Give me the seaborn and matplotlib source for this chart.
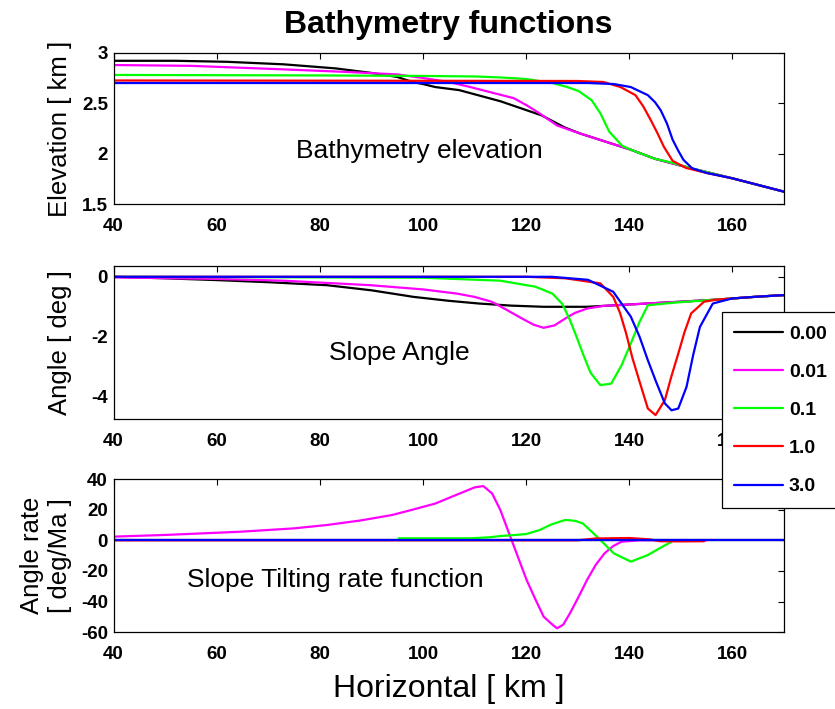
import matplotlib
matplotlib.use("Agg")
import matplotlib.pyplot as plt
import seaborn as sns
import pandas as pd

# ---------------- data ----------------
series_labels = ["0.00", "0.01", "0.1", "1.0", "3.0"]
series_colors = ["#000000", "#FF00FF", "#00FF00", "#FF0000", "#0000FF"]

# Bathymetry elevation [km]
elev_x_000 = [40, 52, 62, 73, 83, 90, 95, 98, 100, 102.4, 107, 115, 123, 127.5, 130.5, 140.3, 145, 152, 160, 170]
elev_y_000 = [2.92, 2.92, 2.91, 2.885, 2.845, 2.80, 2.76, 2.71, 2.69, 2.66, 2.63, 2.52, 2.38, 2.26, 2.20, 2.04, 1.95, 1.856, 1.757, 1.625]
elev_x_001 = [40, 55, 73, 85, 95, 100, 105, 109.2, 113, 117.6, 120.1, 122.6, 126, 128.5, 130.5, 140.3, 145, 152, 160, 170]
elev_y_001 = [2.878, 2.87, 2.835, 2.81, 2.785, 2.75, 2.71, 2.66, 2.61, 2.55, 2.48, 2.40, 2.28, 2.235, 2.20, 2.04, 1.95, 1.856, 1.757, 1.625]
elev_x_01 = [40, 80, 100, 110, 115, 120, 125.1, 128, 130.2, 132.7, 134.4, 136.1, 138.6, 140.3, 145, 148.4, 152, 160, 170]
elev_y_01 = [2.78, 2.775, 2.77, 2.765, 2.755, 2.74, 2.70, 2.66, 2.62, 2.53, 2.40, 2.22, 2.08, 2.04, 1.95, 1.91, 1.856, 1.757, 1.625]
elev_x_1 = [40, 100, 130, 135, 138.3, 141.2, 142.7, 144.2, 145.5, 146.7, 148.4, 151, 155, 160, 170]
elev_y_1 = [2.725, 2.722, 2.72, 2.71, 2.66, 2.58, 2.47, 2.33, 2.20, 2.07, 1.93, 1.86, 1.81, 1.757, 1.625]
elev_x_3 = [40, 100, 132, 137, 140.3, 143.6, 145, 146.1, 147.3, 148.4, 149.5, 150.5, 152.2, 155, 160, 170]
elev_y_3 = [2.70, 2.70, 2.70, 2.69, 2.66, 2.58, 2.51, 2.43, 2.30, 2.14, 2.03, 1.94, 1.856, 1.81, 1.757, 1.625]

# Slope angle [deg]
ang_x_000 = [40, 50, 60, 70, 81.4, 90, 98.2, 105, 110.8, 117, 123.4, 131.8, 140.3, 150, 157, 165, 170]
ang_y_000 = [0, -0.05, -0.11, -0.18, -0.28, -0.45, -0.67, -0.80, -0.89, -0.96, -1.0, -1.0, -0.92, -0.83, -0.76, -0.66, -0.61]
ang_x_001 = [40, 60, 73, 89.8, 100, 106.6, 110, 113.3, 116, 119.2, 121.5, 123.4, 125.5, 127.6, 129.5, 131.8, 135, 140.3, 150, 157, 165, 170]
ang_y_001 = [-0.02, -0.07, -0.13, -0.28, -0.42, -0.56, -0.67, -0.83, -1.08, -1.39, -1.6, -1.7, -1.62, -1.39, -1.2, -1.06, -0.97, -0.92, -0.83, -0.76, -0.66, -0.61]
ang_x_01 = [40, 100, 115, 121.8, 125.1, 127, 128.5, 130, 131, 132.5, 134.4, 136.5, 138.5, 140.3, 142, 143.6, 148.7, 157, 165, 170]
ang_y_01 = [0, -0.03, -0.13, -0.33, -0.56, -0.9, -1.44, -2.1, -2.56, -3.2, -3.61, -3.56, -2.95, -2.22, -1.5, -0.95, -0.86, -0.76, -0.66, -0.61]
ang_x_1 = [40, 120, 127.6, 134.4, 136.9, 138.2, 139.4, 140.6, 141.9, 143.6, 145.1, 146.9, 148.2, 149.5, 150.7, 152, 154.5, 157, 165, 170]
ang_y_1 = [0, 0, -0.05, -0.22, -0.67, -1.2, -1.89, -2.7, -3.44, -4.39, -4.61, -4.11, -3.3, -2.56, -1.85, -1.22, -0.83, -0.76, -0.66, -0.61]
ang_x_3 = [40, 125, 132, 136.9, 140.3, 142, 143.6, 145.2, 146.9, 148.2, 149.5, 151.1, 152.4, 153.7, 156.2, 160, 165, 170]
ang_y_3 = [0, 0, -0.1, -0.5, -1.33, -2.0, -2.78, -3.5, -4.22, -4.45, -4.39, -3.67, -2.6, -1.67, -0.89, -0.72, -0.66, -0.61]

# Slope tilting rate [deg/Ma]
rate_x_000 = [40, 170]
rate_y_000 = [0, 0]
rate_x_001 = [40, 50, 64.6, 75, 81.4, 88, 94, 98, 102.4, 106, 110, 111.7, 113.4, 115, 116.7, 118.4, 120.1,
              121.8, 123.4, 125.1, 126, 127.2, 128.5, 130.2, 131.8, 133.5, 135.2, 136.9, 138.5, 141.9, 148, 155]
rate_y_001 = [2.4, 3.5, 5.6, 7.8, 10, 13, 16.5, 20, 24, 29, 34.5, 35.4, 30.6, 19.8, 4.5, -10.7, -25.9,
              -38.5, -49.8, -55, -57.4, -55, -47.6, -36.7, -25.9, -16, -8.5, -3.7, -0.9, 0, 0, 0]
rate_x_01 = [95.3, 105, 109.2, 113, 115, 118, 120, 122.6, 125, 127.6, 129.5, 131, 132.7, 134.4, 137, 140.3, 143.6, 146.2, 148.2]
rate_y_01 = [1.3, 1.3, 1.3, 2, 2.8, 3.5, 4.1, 6.7, 10.5, 13.3, 12.7, 11, 5.7, 0.2, -8.5, -13.9, -9.6, -4.6, -0.9]
rate_x_1 = [40, 130, 133.5, 140, 144, 146, 150, 154.5]
rate_y_1 = [0, 0, 1.2, 1.5, 0.6, -0.6, -0.7, -0.6]
rate_x_3 = [40, 170]
rate_y_3 = [0, 0]

x_ticks = [40, 60, 80, 100, 120, 140, 160]
elev_ticks = [1.5, 2, 2.5, 3]
elev_ticklabels = ["1.5", "2", "2.5", "3"]
ang_ticks = [-4, -2, 0]
ang_ticklabels = ["-4", "-2", "0"]
rate_ticks = [-60, -40, -20, 0, 20, 40]
rate_ticklabels = ["-60", "-40", "-20", "0", "20", "40"]

# ---------------- style ----------------
sns.set_theme(style="white")
plt.rcParams["font.family"] = ["Liberation Sans", "DejaVu Sans"]
plt.rcParams["axes.unicode_minus"] = False
plt.rcParams["text.color"] = "black"
plt.rcParams["axes.labelcolor"] = "black"
plt.rcParams["xtick.color"] = "black"
plt.rcParams["ytick.color"] = "black"

W, H = 835, 709
fig = plt.figure(figsize=(W / 100, H / 100), dpi=100)

left, right = 113.5 / W, 784 / W
def box(top_px, bot_px):
    return [left, 1 - bot_px / H, right - left, (bot_px - top_px) / H]

ax1 = fig.add_axes(box(52.7, 204.3))
ax2 = fig.add_axes(box(265.7, 419.0))
ax3 = fig.add_axes(box(479.0, 632.3))

panels = [
    (ax1, [(elev_x_000, elev_y_000), (elev_x_001, elev_y_001), (elev_x_01, elev_y_01), (elev_x_1, elev_y_1), (elev_x_3, elev_y_3)]),
    (ax2, [(ang_x_000, ang_y_000), (ang_x_001, ang_y_001), (ang_x_01, ang_y_01), (ang_x_1, ang_y_1), (ang_x_3, ang_y_3)]),
    (ax3, [(rate_x_000, rate_y_000), (rate_x_001, rate_y_001), (rate_x_01, rate_y_01), (rate_x_1, rate_y_1), (rate_x_3, rate_y_3)]),
]

for ax, data in panels:
    for (xs, ys), lab, col in zip(data, series_labels, series_colors):
        df = pd.DataFrame({"x": xs, "y": ys})
        sns.lineplot(data=df, x="x", y="y", ax=ax, color=col, linewidth=1.6,
                     estimator=None, sort=False, label=lab, legend=False)
    ax.set_xlim(40, 170)
    ax.set_xticks(x_ticks)
    ax.set_xticklabels([str(t) for t in x_ticks])
    ax.tick_params(axis="both", which="major", direction="in", length=4, width=0.8,
                   top=True, right=True, labelsize=13.5, colors="black")
    ax.tick_params(axis="x", pad=10)
    ax.tick_params(axis="y", pad=4)
    for lbl in ax.get_xticklabels() + ax.get_yticklabels():
        lbl.set_fontweight("bold")
    for sp in ax.spines.values():
        sp.set_color("black")
        sp.set_linewidth(0.9)
        sp.set_visible(True)
    ax.set_xlabel("")
    ax.grid(False)

ax1.set_ylim(1.5, 3)
ax1.set_yticks(elev_ticks)
ax1.set_yticklabels(elev_ticklabels, fontweight="bold")
ax2.set_ylim(-4.74, 0.37)
ax2.set_yticks(ang_ticks)
ax2.set_yticklabels(ang_ticklabels, fontweight="bold")
ax3.set_ylim(-60, 40)
ax3.set_yticks(rate_ticks)
ax3.set_yticklabels(rate_ticklabels, fontweight="bold")

ax1.set_ylabel("Elevation [ km ]", fontsize=18.5)
ax2.set_ylabel("Angle [ deg ]", fontsize=18.5)
ax3.set_ylabel("Angle rate\n[ deg/Ma ]", fontsize=18.5, linespacing=1.2)
ax1.yaxis.set_label_coords(-0.062, 0.5)
ax2.yaxis.set_label_coords(-0.062, 0.5)
ax3.yaxis.set_label_coords(-0.062, 0.5)

ax3.set_xlabel("Horizontal [ km ]", fontsize=23)
ax3.xaxis.set_label_coords(0.5, -0.275)

ax1.set_title("Bathymetry functions", fontsize=23, fontweight="bold", pad=14)

ax1.text(99.4, 2.03, "Bathymetry elevation", fontsize=19, ha="center", va="center")
ax2.text(95.5, -2.54, "Slope Angle", fontsize=19, ha="center", va="center")
ax3.text(83.1, -25.8, "Slope Tilting rate function", fontsize=19, ha="center", va="center")

handles, labels = ax2.get_legend_handles_labels()
leg = fig.legend(handles, labels, loc="upper left",
                 bbox_to_anchor=(721.7 / W, 1 - 508 / H, 0.2, (508 - 312.3) / H),
                 bbox_transform=fig.transFigure, mode="expand", borderaxespad=0,
                 prop={"weight": "bold", "size": 14}, frameon=True, fancybox=False,
                 framealpha=1, edgecolor="black", handlelength=2.5, handletextpad=0.3,
                 labelspacing=1.06, borderpad=0.65)
leg.get_frame().set_linewidth(0.9)

fig.savefig("out.png", dpi=100)
